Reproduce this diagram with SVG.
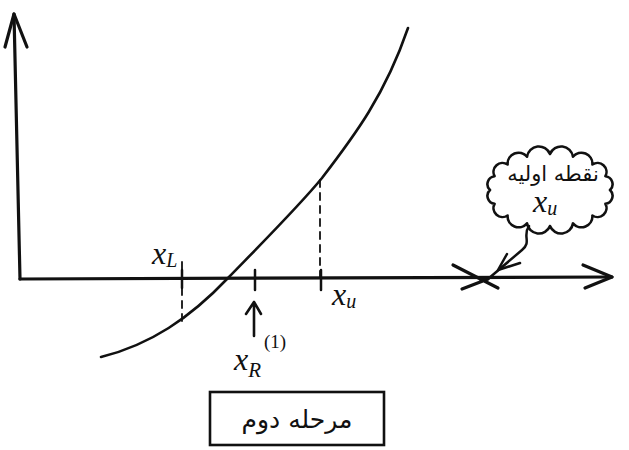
<svg xmlns="http://www.w3.org/2000/svg" width="629" height="450" viewBox="0 0 629 450">
<style>
.ln{fill:none;stroke:#111;stroke-linecap:round;stroke-linejoin:round}
.ax{stroke-width:3.2}
.cv{stroke-width:2.6}
.dash{stroke-width:1.8;stroke-dasharray:7 6}
.lbl{font-family:"Liberation Serif",serif;font-style:italic;fill:#111}
.fa{font-family:"DejaVu Sans","Noto Sans",sans-serif;fill:#111}
</style>
<rect width="629" height="450" fill="#fff"/>
<g id="connectors">
<path class="ln ax" d="M14,14 L20,279"/>
<path class="ln ax" d="M5,47 L14,14 L27,47"/>
<path class="ln ax" d="M20,279 L612,277"/>
<path class="ln ax" d="M583,265 L612,277 L585,288"/>
<path class="ln cv" d="M101,357 C150,345 190,318 228,278 C265,240 300,205 322,178 C355,135 385,95 408,28"/>
<path class="ln dash" d="M182,262 L182,322"/>
<path class="ln dash" d="M320,180 L320,278"/>
<path class="ln" stroke-width="2.5" d="M182,270 L182,288 M255,270 L255,290 M321,270 L321,290"/>
<path class="ln" stroke-width="2.6" d="M254,336 L254,302 M246,314 L254,302 L261,314"/>
<path class="ln" stroke-width="3.2" d="M453,265 L498,288 M462,289 L488,279"/>
<path class="ln" stroke-width="2.5" d="M529,226 C522,236 532,242 522,250 C515,256 508,262 488,279"/>
<path class="ln" stroke-width="2.5" d="M507,254 L498,270 L520,263"/>
</g>
<g id="cloud">
<path class="ln" stroke-width="2.6" d="M610,190 A8 8 0 0 1 605.4,203.8 A9 9 0 0 1 592.4,215.5 A11 11 0 0 1 573,223.3 A12 12 0 0 1 550,226 A12 12 0 0 1 527,223.3 A11 11 0 0 1 507.6,215.5 A9 9 0 0 1 494.6,203.8 A8 8 0 0 1 490,190 A8 8 0 0 1 494.6,176.2 A9 9 0 0 1 507.6,164.5 A11 11 0 0 1 527,156.7 A12 12 0 0 1 550,154 A12 12 0 0 1 573,156.7 A11 11 0 0 1 592.4,164.5 A9 9 0 0 1 605.4,176.2 A8 8 0 0 1 610,190 Z"/>
<text class="fa" x="553" y="181" font-size="21" text-anchor="middle" direction="rtl">نقطه اولیه</text>
<text class="lbl" x="533" y="212" font-size="32">x<tspan font-size="20" dy="3">u</tspan></text>
</g>
<g id="label-xL">
<text class="lbl" x="152" y="264" font-size="32">x<tspan font-size="20" dy="3">L</tspan></text>
</g>
<g id="label-xu">
<text class="lbl" x="332" y="305" font-size="32">x<tspan font-size="20" dy="3">u</tspan></text>
</g>
<g id="label-xR">
<text class="lbl" x="234" y="370" font-size="32">x<tspan font-size="21" dy="7">R</tspan></text>
<text x="264" y="348" font-family="Liberation Serif,serif" font-size="19" fill="#111">(1)</text>
</g>
<g id="stage-box">
<rect x="210" y="392" width="174" height="53" fill="none" stroke="#111" stroke-width="2.6"/>
<text class="fa" x="297" y="428" font-size="25" text-anchor="middle" direction="rtl">مرحله دوم</text>
</g>
</svg>
